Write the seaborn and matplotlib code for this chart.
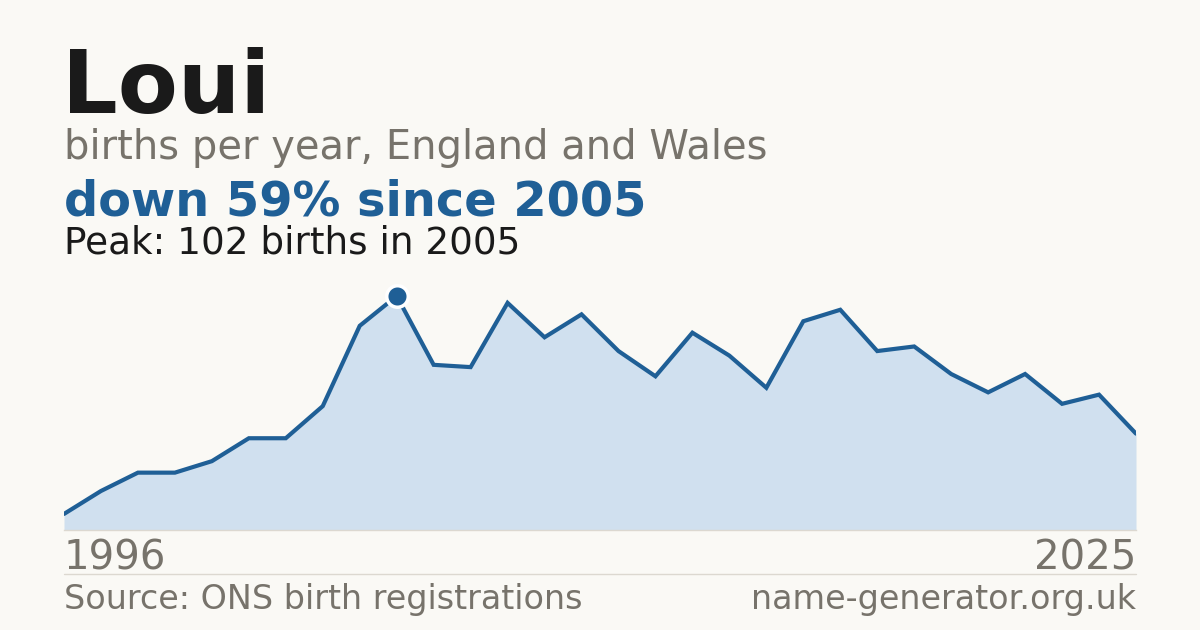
import matplotlib
matplotlib.use("Agg")
import matplotlib.pyplot as plt
import seaborn as sns
import pandas as pd

# ---- data ----
years = list(range(1996, 2026))
births = [7, 17, 25, 25, 30, 40, 40, 54, 89, 102,
          72, 71, 99, 84, 94, 78, 67, 86, 76, 62,
          91, 96, 78, 80, 68, 60, 68, 55, 59, 42]
name = "Loui"
subtitle = "births per year, England and Wales"
headline = "down 59% since 2005"
peak_text = "Peak: 102 births in 2005"
source_text = "Source: ONS birth registrations"
site_text = "name-generator.org.uk"

# ---- style ----
BG = "#faf9f5"
BLUE = "#1f5f96"
FILL = "#d0e0ef"
GREY = "#77736b"
DARK = "#1a1a1a"
RULE = "#dcd8d0"

sns.set_theme(style="white")
plt.rcParams["font.family"] = ["DejaVu Sans"]

df = pd.DataFrame({"year": years, "births": births})
peak_idx = int(df["births"].idxmax())
peak_year = df.loc[peak_idx, "year"]
peak_val = df.loc[peak_idx, "births"]

W, H = 1200, 630
fig = plt.figure(figsize=(12, 6.3), dpi=100, facecolor=BG)

# axes: x 64..1136 px, y 280..530 px
ax_left, ax_right = 64, 1136
ax_top, ax_bot = 280, 530
ax = fig.add_axes([ax_left / W, 1 - ax_bot / H, (ax_right - ax_left) / W, (ax_bot - ax_top) / H])
ax.set_facecolor(BG)
ax.patch.set_alpha(0)

ax.fill_between(df["year"], df["births"], 0, color=FILL, linewidth=0, zorder=1)
sns.lineplot(data=df, x="year", y="births", ax=ax, color=BLUE, linewidth=3.0,
             solid_joinstyle="miter", zorder=3)
sns.scatterplot(x=[peak_year], y=[peak_val], ax=ax, color=BLUE, s=240,
                edgecolor="white", linewidth=2.5, zorder=5, clip_on=False)

ax.set_xlim(years[0], years[-1])
ax.set_ylim(0, peak_val * (ax_bot - ax_top) / (ax_bot - 296))
ax.set_xticks([])
ax.set_yticks([])
ax.set_xlabel("")
ax.set_ylabel("")
for s in ["top", "right", "left"]:
    ax.spines[s].set_visible(False)
ax.spines["bottom"].set_color(RULE)
ax.spines["bottom"].set_linewidth(1.0)

# ---- texts ----
def fy(px):
    return 1 - px / H

x0 = 64 / W
fig.text(x0 - 0.002, fy(113), name, fontsize=63, fontweight="bold", color=DARK, va="baseline", ha="left")
fig.text(x0, fy(159.5), subtitle, fontsize=28.8, color=GREY, va="baseline", ha="left")
fig.text(x0, fy(215), headline, fontsize=34.5, fontweight="bold", color=BLUE, va="baseline", ha="left")
fig.text(x0, fy(253.5), peak_text, fontsize=26.9, color=DARK, va="baseline", ha="left")

fig.text(x0, fy(570), str(years[0]), fontsize=29, color=GREY, va="baseline", ha="left")
fig.text(ax_right / W, fy(570), str(years[-1]), fontsize=29, color=GREY, va="baseline", ha="right")

fig.add_artist(plt.Line2D([x0, ax_right / W], [fy(574), fy(574)], color=RULE, linewidth=1.0,
                          transform=fig.transFigure))

fig.text(x0, fy(609.5), source_text, fontsize=24, color=GREY, va="baseline", ha="left")
fig.text(ax_right / W, fy(609.5), site_text, fontsize=24, color=GREY, va="baseline", ha="right")

fig.savefig("out.png", dpi=100, facecolor=BG)
